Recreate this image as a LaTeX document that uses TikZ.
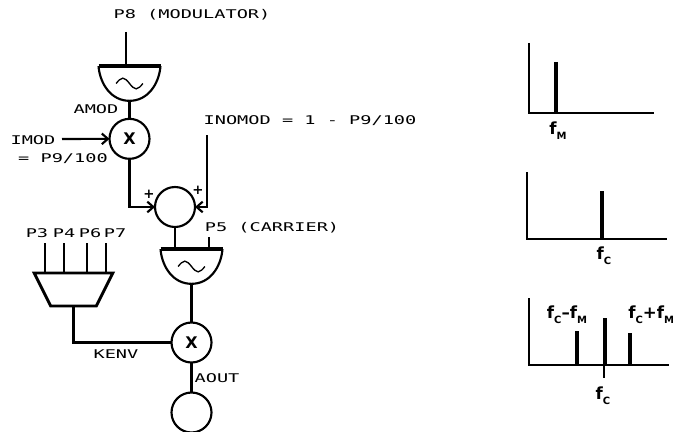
\documentclass[tikz,border=0pt]{standalone}
\usepackage{fontspec}
\usepackage{tikz}
\usetikzlibrary{arrows.meta,positioning,shapes.geometric}
\newfontfamily\pixfont[FakeStretch=1.55]{DejaVu Sans Mono}
\setmainfont{DejaVu Sans}
\newcommand{\fsub}[1]{f\raisebox{-.55ex}{\fontsize{7.5pt}{8pt}\selectfont #1}}
\tikzset{
  oscbox/.style={minimum width=46.5pt,minimum height=26pt,inner sep=0pt,outer sep=0pt},
  mulnode/.style={draw,circle,line width=1.6pt,minimum size=30pt,inner sep=0pt,outer sep=0pt,font=\fontsize{12pt}{13pt}\selectfont\bfseries},
  envbox/.style={minimum width=59pt,minimum height=24.75pt,inner sep=0pt,outer sep=0pt},
  lbl/.style={inner sep=0pt,font=\pixfont\fontsize{9pt}{11pt}\selectfont},
  flbl/.style={inner sep=0pt,font=\fontsize{12.5pt}{14pt}\selectfont\bfseries},
  plus/.style={inner sep=0pt,font=\fontsize{10pt}{11pt}\selectfont\bfseries},
  wire/.style={line width=1.6pt},
  feed/.style={-{Straight Barb[length=1.6mm,width=2.8mm]},line width=1.6pt},
  axis/.style={line width=1.6pt},
  spike/.style={line width=2.8pt},
}
\begin{document}
\begin{tikzpicture}[x=.75pt,y=-.75pt]
        \clip (0,0) rectangle (673,431);
        \node[oscbox] (oscm) at (129.5,83.5) {};
        \node[mulnode,below=13.5pt of oscm] (mulm) {X};
        \node[mulnode] (addr) at (175,207) {};
        \node[oscbox] (oscc) at (191.5,266.5) {};
        \node[mulnode,below=29pt of oscc] (mulc) {X};
        \node[mulnode,below=22.5pt of mulc] (outp) {};
        \node[envbox] (env) at (73.5,289.5) {};
        \draw[line width=2.2pt] (env.north west) -- (env.north east) -- ([xshift=-12.4pt]env.south east) -- ([xshift=12.4pt]env.south west) -- cycle;
        \foreach \o in {oscm,oscc} {
          \draw[line width=3.2pt] (\o.north west) -- (\o.north east);
          \draw[wire] (\o.north west) to[out=-85,in=180] (\o.south) to[out=0,in=-95] (\o.north east);
          \draw[line width=1pt] ([xshift=-10pt]\o.center) sin +(5pt,4pt) cos +(5pt,-4pt) sin +(5pt,-4pt) cos +(5pt,4pt);
        }
        \node[lbl] (pm) at (192,15) {P8 (MODULATOR)};
        \node[lbl] (amod) at (96,109) {AMOD};
        \node[lbl] (imod) at (33,140) {IMOD};
        \node[lbl] (pnine) at (63,159) {= P9/100};
        \node[lbl] (inom) at (310,121) {INOMOD = 1 - P9/100};
        \node[lbl] (pc) at (272,228) {P5 (CARRIER)};
        \node[lbl] (pa) at (37,233) {P3};
        \node[lbl] (pb) at (64,233) {P4};
        \node[lbl] (pd) at (90,233) {P6};
        \node[lbl] (pe) at (115,233) {P7};
        \node[lbl] (kenv) at (116,354) {KENV};
        \node[lbl] (aout) at (217,378) {AOUT};
        \node[plus] (pl) at (149,194) {+};
        \node[plus] (pr) at (198,190) {+};
        \coordinate (inm) at (126,32);
        \coordinate (imo) at (62,139);
        \coordinate (ino) at (207,135);
        \coordinate (inc) at (209,237);
        \coordinate (ina) at (45,243);
        \coordinate (inb) at (64,243);
        \coordinate (ind) at (87,243);
        \coordinate (ine) at (106,243);
        \draw[wire] (inm) -- (inm |- oscm.north);
        \draw[wire] (oscm.south) -- (mulm.north);
        \draw[feed] (imo) -- (mulm.west);
        \draw[feed] (mulm.south) |- (addr.west);
        \draw[feed] (ino) |- (addr.east);
        \draw[wire] (addr.south) -- (addr.south |- oscc.north);
        \draw[wire] (inc) -- (inc |- oscc.north);
        \draw[wire] (oscc.south) -- (mulc.north);
        \draw[wire] (mulc.south) -- (outp.north);
        \draw[wire] (env.south) |- (mulc.west);
        \draw[wire] (ina) -- (ina |- env.north);
        \draw[wire] (inb) -- (inb |- env.north);
        \draw[wire] (ind) -- (ind |- env.north);
        \draw[wire] (ine) -- (ine |- env.north);
        \draw[axis] (529,43) |- (654,113);
        \draw[spike] (556,62) -- (556,113);
        \node[flbl] (fm) at (558,131) {\fsub{M}};
        \draw[axis] (527,172) |- (667,239);
        \draw[spike] (602,191) -- (602,239);
        \node[flbl] (fc) at (604,256) {\fsub{C}};
        \draw[axis] (529,298) |- (669,365);
        \draw[spike] (577,331) -- (577,365);
        \draw[spike] (605,318) -- (605,365);
        \draw[spike] (630,333) -- (630,365);
        \draw[axis] (604,365) -- (604,378);
        \node[flbl] (fs) at (567,315) {\fsub{C}--\fsub{M}};
        \node[flbl,anchor=west] (fa) at (628,315) {\fsub{C}+\fsub{M}};
        \node[flbl] (fb) at (603,396) {\fsub{C}};
      \end{tikzpicture}
\end{document}
